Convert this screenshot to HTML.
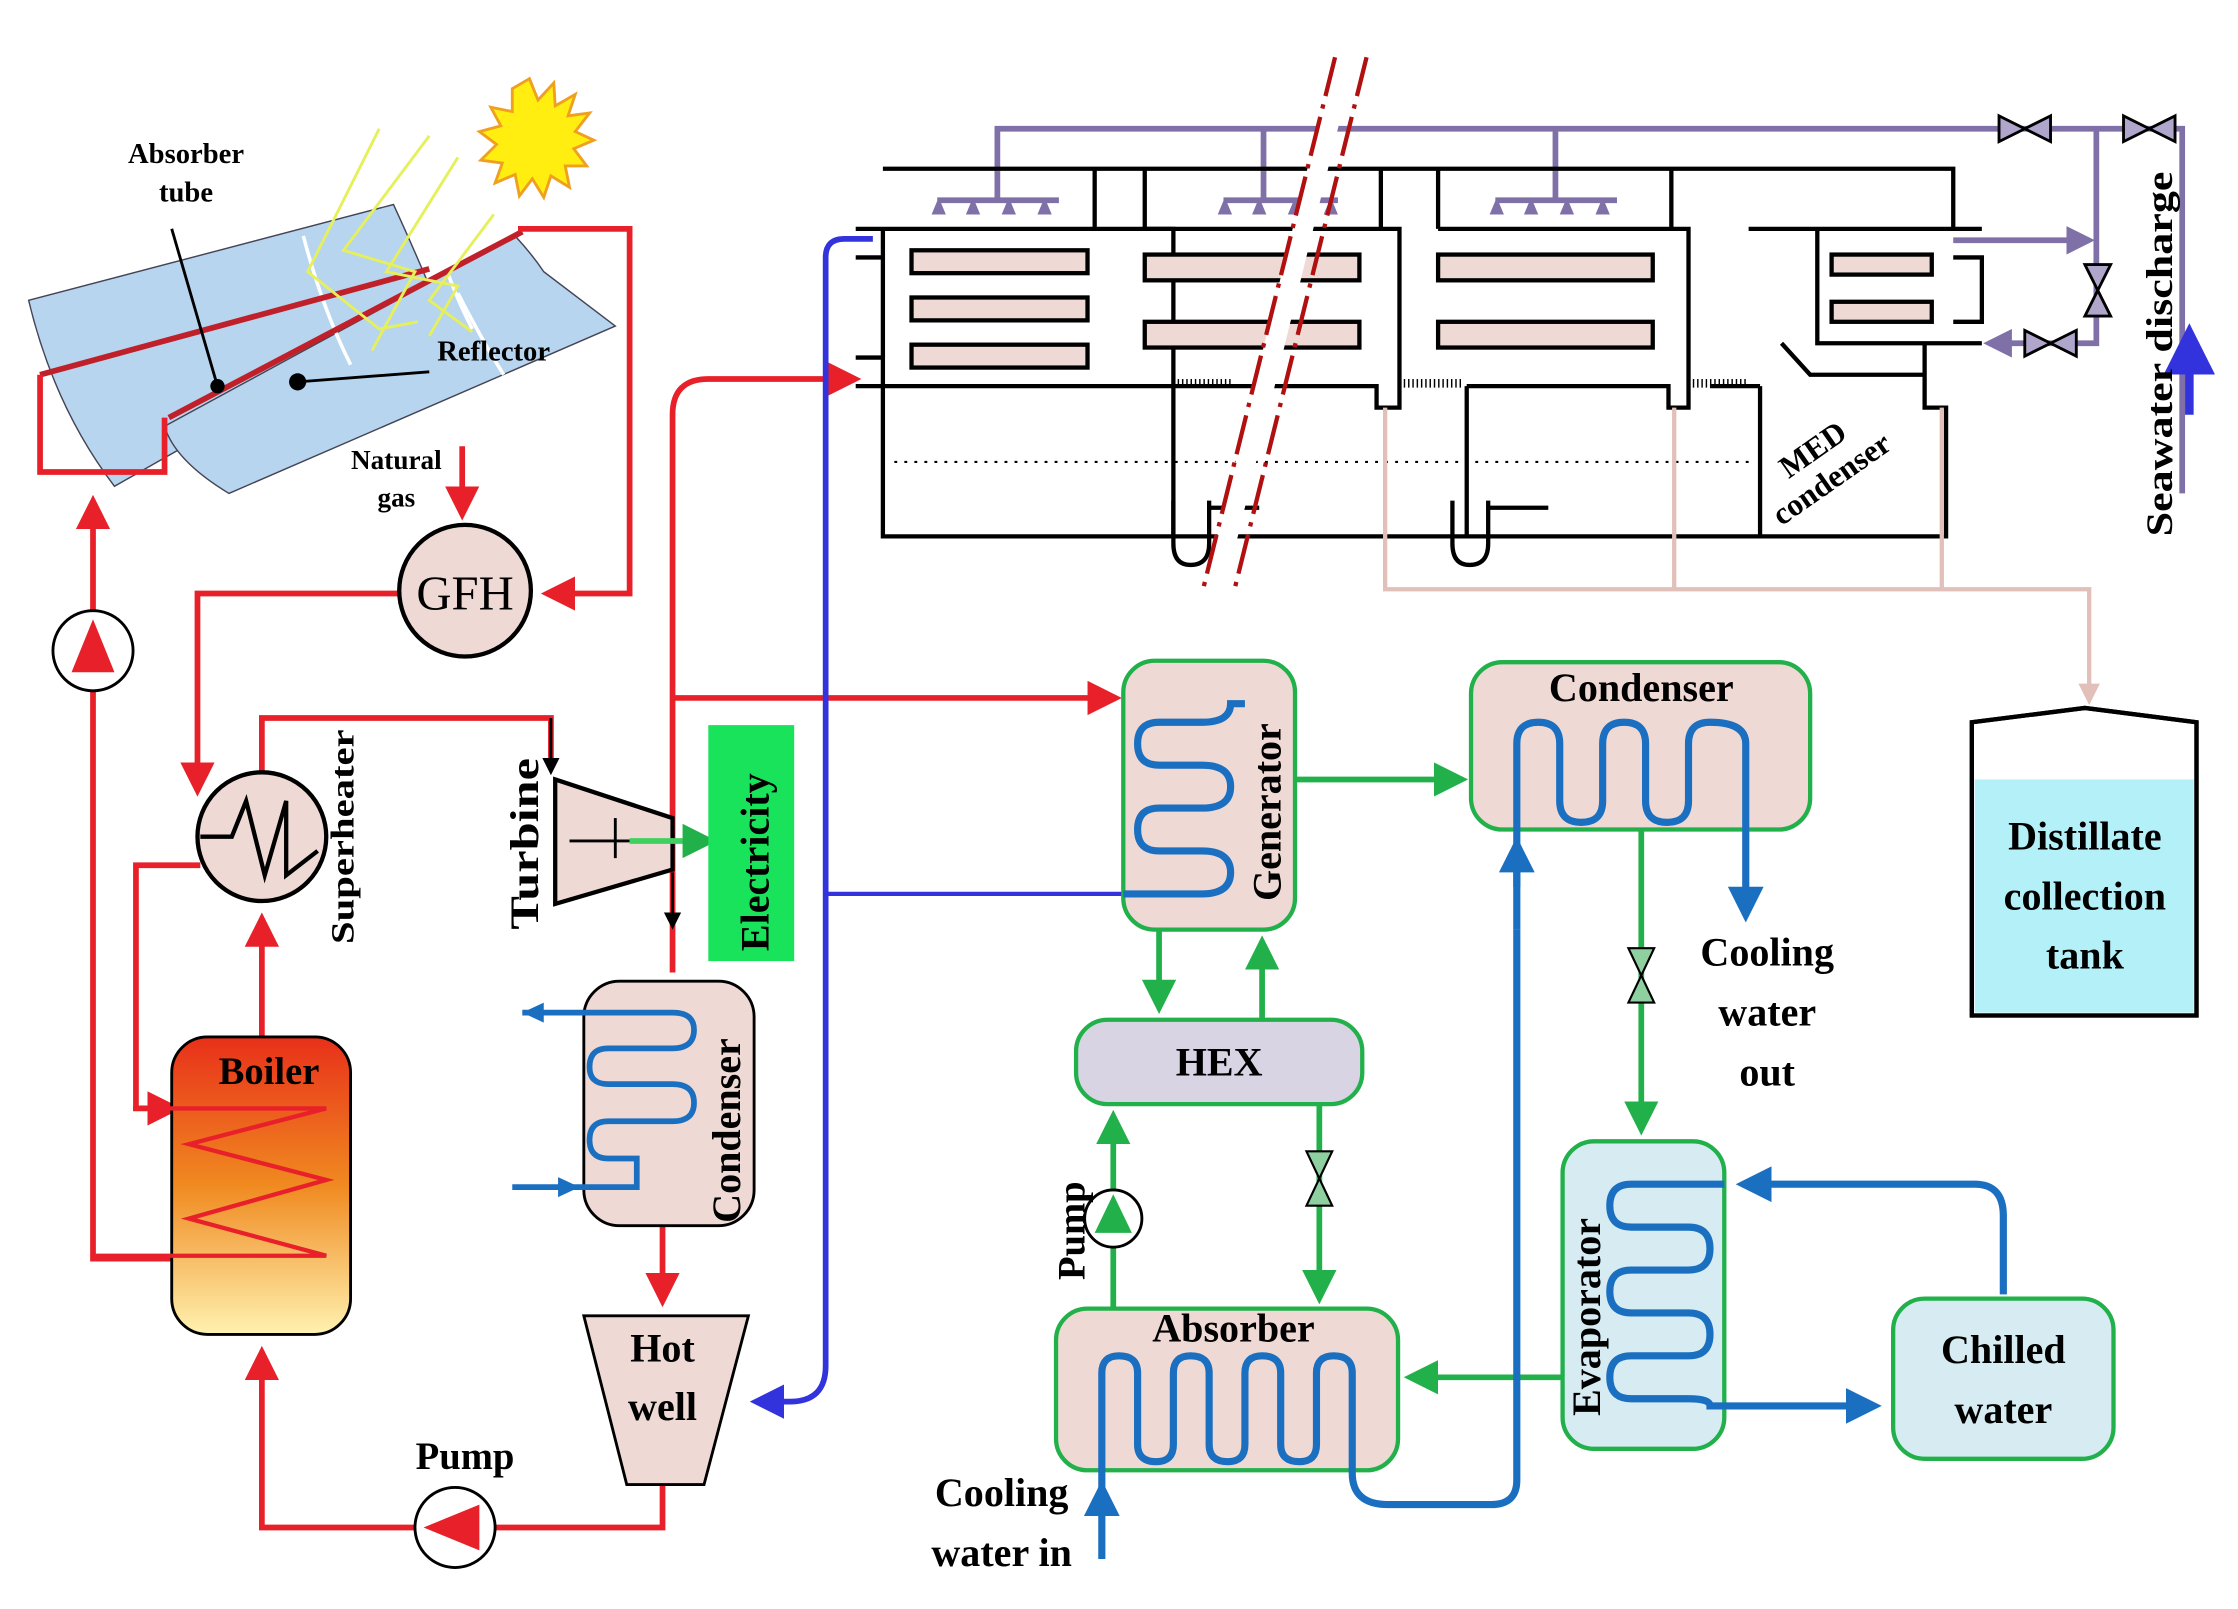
<!DOCTYPE html>
<html><head><meta charset="utf-8"><style>
html,body{margin:0;padding:0;background:#fff;}
svg{display:block;}
text{font-family:"Liberation Serif",serif;font-weight:bold;fill:#000;}
</style></head><body>
<svg width="2238" height="1609" viewBox="0 0 1564 1125" preserveAspectRatio="none" xmlns="http://www.w3.org/2000/svg">
<defs>
<marker id="ar" markerWidth="6" markerHeight="6" refX="5" refY="3" orient="auto" markerUnits="strokeWidth"><path d="M0,0 L6,3 L0,6 Z" fill="#e8202a"/></marker>
<marker id="ag" markerWidth="6" markerHeight="6" refX="5" refY="3" orient="auto" markerUnits="strokeWidth"><path d="M0,0 L6,3 L0,6 Z" fill="#22b04a"/></marker>
<marker id="ab" markerWidth="5" markerHeight="5" refX="4" refY="2.5" orient="auto" markerUnits="strokeWidth"><path d="M0,0 L5,2.5 L0,5 Z" fill="#1a6fc0"/></marker>
<marker id="au" markerWidth="6" markerHeight="6" refX="5" refY="3" orient="auto" markerUnits="strokeWidth"><path d="M0,0 L6,3 L0,6 Z" fill="#3333dd"/></marker>
<marker id="ap" markerWidth="5" markerHeight="5" refX="4" refY="2.5" orient="auto" markerUnits="strokeWidth"><path d="M0,0 L5,2.5 L0,5 Z" fill="#8070a8"/></marker>
<marker id="ak" markerWidth="6" markerHeight="6" refX="5" refY="3" orient="auto" markerUnits="strokeWidth"><path d="M0,0 L6,3 L0,6 Z" fill="#000"/></marker>
<marker id="apk" markerWidth="5" markerHeight="5" refX="4" refY="2.5" orient="auto" markerUnits="strokeWidth"><path d="M0,0 L5,2.5 L0,5 Z" fill="#e0c0b8"/></marker>
<linearGradient id="boil" x1="0" y1="0" x2="0" y2="1"><stop offset="0" stop-color="#e8301a"/><stop offset="0.5" stop-color="#f08a20"/><stop offset="1" stop-color="#fff2b0"/></linearGradient>
</defs>

<!-- Solar collector -->
<g stroke="#445" stroke-width="1" fill="#b7d5ee">
<path d="M20,210 L275,143 Q292,180 305,212 L80,340 Q38,285 20,210 Z"/>
<path d="M115,298 L360,165 Q372,178 380,190 L430,228 L160,345 Q122,322 115,298 Z"/>
</g>
<g stroke="#fff" stroke-width="2.5" fill="none"><path d="M212,165 Q225,215 245,255"/><path d="M300,150 Q312,195 330,230"/><path d="M320,205 Q338,240 352,262"/></g>
<line x1="28" y1="262" x2="300" y2="188" stroke="#c0202a" stroke-width="4"/>
<line x1="118" y1="292" x2="365" y2="162" stroke="#c0202a" stroke-width="4"/>
<g stroke="#e6f05a" stroke-width="2" fill="none">
<path d="M265,90 L215,190 L265,230 L292,225"/><path d="M300,95 L240,175 L290,190 L260,245"/><path d="M320,110 L270,190 L320,200 L300,235"/><path d="M345,150 L300,210 L330,232"/>
</g>
<line x1="120" y1="160" x2="152" y2="270" stroke="#000" stroke-width="2"/><circle cx="152" cy="270" r="5" fill="#000"/>
<line x1="208" y1="267" x2="300" y2="260" stroke="#000" stroke-width="2"/><circle cx="208" cy="267" r="6" fill="#000"/>
<text x="130" y="114" font-size="20" text-anchor="middle">Absorber</text>
<text x="130" y="141" font-size="20" text-anchor="middle">tube</text>
<text x="345" y="252" font-size="20" text-anchor="middle">Reflector</text>
<!-- Sun -->
<polygon fill="#ffee10" stroke="#f0a020" stroke-width="2" points="370,55 376,70 387,58 388,74 402,66 397,81 412,79 402,92 415,98 401,104 410,116 395,116 398,131 385,123 380,138 372,125 363,137 360,122 346,128 351,114 336,112 347,101 335,92 350,88 343,75 358,78 358,62"/>

<!-- Red lines -->
<g fill="none" stroke="#e8202a" stroke-width="4">
<path d="M362,160 H440 V415 H382" marker-end="url(#ar)"/>
<path d="M282,415 H138 V553" marker-end="url(#ar)"/>
<path d="M28,262 V330 H115 V292"/>
<path d="M120,880 H65 V350" marker-end="url(#ar)"/>
<path d="M183,725 V642" marker-end="url(#ar)"/>
<path d="M140,605 H95 V775 H123" marker-end="url(#ar)"/>
<path d="M183,542 V502 H385 V530"/>
<path d="M323,312 V360" marker-end="url(#ar)"/>
<path d="M470,680 V290 Q470,265 495,265 H598" marker-end="url(#ar)"/>
<path d="M470,488 H780" marker-end="url(#ar)"/>
<path d="M463,857 V910" marker-end="url(#ar)"/>
<path d="M463,1038 V1068 H183 V945" marker-end="url(#ar)"/>
</g>

<!-- Pump collector -->
<circle cx="65" cy="455" r="28" fill="#fff" stroke="#000" stroke-width="2"/>
<polygon points="65,433 50,470 80,470" fill="#e8202a"/>
<text x="277" y="328" font-size="19" text-anchor="middle">Natural</text>
<text x="277" y="354" font-size="19" text-anchor="middle">gas</text>
<!-- GFH -->
<circle cx="325" cy="413" r="46" fill="#efd9d4" stroke="#000" stroke-width="3"/>
<text x="325" y="426" font-size="34" text-anchor="middle" style="font-weight:normal">GFH</text>

<!-- Superheater -->
<circle cx="183" cy="585" r="45" fill="#efd9d4" stroke="#000" stroke-width="3"/>
<path d="M140,585 H162 L172,560 L185,612 L200,560 V612 L222,595" fill="none" stroke="#000" stroke-width="3"/>
<text transform="translate(247,660) rotate(-90)" font-size="23" textLength="150" lengthAdjust="spacingAndGlyphs">Superheater</text>

<!-- Boiler -->
<rect x="120" y="725" width="125" height="208" rx="25" fill="url(#boil)" stroke="#000" stroke-width="2"/>
<path d="M93,775 H228 L132,800 L228,825 L132,852 L228,878 H65" fill="none" stroke="#e8202a" stroke-width="3"/>
<text x="188" y="758" font-size="27" text-anchor="middle">Boiler</text>

<!-- Turbine -->
<polygon points="388,545 470,572 470,608 388,632" fill="#efd9d4" stroke="#000" stroke-width="3"/>
<line x1="385" y1="502" x2="385" y2="540" stroke="#000" stroke-width="2" marker-end="url(#ak)"/>
<line x1="470" y1="610" x2="470" y2="648" stroke="#000" stroke-width="2" marker-end="url(#ak)"/>
<line x1="398" y1="588" x2="440" y2="588" stroke="#000" stroke-width="2"/>
<line x1="430" y1="572" x2="430" y2="600" stroke="#000" stroke-width="2"/>
<line x1="440" y1="588" x2="497" y2="588" stroke="#40d060" stroke-width="4" marker-end="url(#ag)"/>
<text transform="translate(376,650) rotate(-90)" font-size="28" textLength="120" lengthAdjust="spacingAndGlyphs">Turbine</text>
<rect x="495" y="507" width="60" height="165" fill="#19e35a"/>
<text transform="translate(537,665) rotate(-90)" font-size="28">Electricity</text>

<!-- Condenser left -->
<rect x="408" y="686" width="119" height="171" rx="25" fill="#efd9d4" stroke="#000" stroke-width="2"/>
<path d="M365,708 H470 Q485,708 485,720 Q485,733 470,733 H425 Q412,733 412,746 Q412,758 425,758 H470 Q485,758 485,771 Q485,784 470,784 H425 Q412,784 412,797 Q412,810 425,810 H445 V830 H358" fill="none" stroke="#1a6fc0" stroke-width="4"/>
<polygon points="365,708 380,701 380,715" fill="#1a6fc0"/>
<polygon points="405,830 390,823 390,837" fill="#1a6fc0"/>
<text transform="translate(517,855) rotate(-90)" font-size="28">Condenser</text>

<!-- Hot well -->
<polygon points="408,920 523,920 492,1038 438,1038" fill="#efd9d4" stroke="#000" stroke-width="2"/>
<text x="463" y="952" font-size="28" text-anchor="middle">Hot</text>
<text x="463" y="993" font-size="28" text-anchor="middle">well</text>
<!-- Pump bottom -->
<circle cx="318" cy="1068" r="28" fill="#fff" stroke="#000" stroke-width="2"/>
<polygon points="296,1068 335,1052 335,1084" fill="#e8202a"/>
<text x="325" y="1027" font-size="27" text-anchor="middle">Pump</text>

<!-- blue-violet line -->
<path d="M610,167 H590 Q577,167 577,180 V955 Q577,980 552,980 H528" fill="none" stroke="#3333dd" stroke-width="4" marker-end="url(#au)"/>
<line x1="577" y1="625" x2="785" y2="625" stroke="#3333dd" stroke-width="3"/>

<!-- MED -->
<g fill="none" stroke="#8070a8" stroke-width="4">
<path d="M697,120 V90 H1525 V345"/>
<path d="M883,120 V90"/><path d="M1087,120 V90"/>
<path d="M655,140 H740 M697,120 V140 M855,140 H935 M883,120 V140 M1045,140 H1130 M1087,120 V140"/>
<path d="M1465,90 V240 H1390" marker-end="url(#ap)"/>
<path d="M1365,168 H1460" marker-end="url(#ap)"/>
</g>
<g fill="#8070a8">
<path d="M651,150 l5,-12 l5,12z M675,150 l5,-12 l5,12z M700,150 l5,-12 l5,12z M725,150 l5,-12 l5,12z"/>
<path d="M851,150 l5,-12 l5,12z M875,150 l5,-12 l5,12z M900,150 l5,-12 l5,12z M925,150 l5,-12 l5,12z"/>
<path d="M1041,150 l5,-12 l5,12z M1065,150 l5,-12 l5,12z M1090,150 l5,-12 l5,12z M1115,150 l5,-12 l5,12z"/>
</g>
<g fill="#b0a6cc" stroke="#000" stroke-width="2">
<path d="M1397,81 L1415,90 L1397,99Z M1433,81 L1415,90 L1433,99Z"/>
<path d="M1484,81 L1502,90 L1484,99Z M1520,81 L1502,90 L1520,99Z"/>
<path d="M1457,185 L1466,203 L1475,185Z M1457,221 L1466,203 L1475,221Z"/>
<path d="M1415,231 L1433,240 L1415,249Z M1451,231 L1433,240 L1451,249Z"/>
</g>
<line x1="1530" y1="290" x2="1530" y2="232" stroke="#3333dd" stroke-width="6" marker-end="url(#au)"/>
<text transform="translate(1518,375) rotate(-90)" font-size="26" textLength="255" lengthAdjust="spacingAndGlyphs">Seawater discharge</text>

<g fill="none" stroke="#000" stroke-width="3">
<path d="M617,118 H1365 V160 M765,118 V160 M800,118 V160 M965,118 V160 M1005,118 V160 M1168,118 V160"/>
<path d="M598,160 H820 V270 H598 M617,180 H598 M617,250 H598 M617,160 V270"/>
<path d="M800,160 H978 V285 H962 V270 H820"/>
<path d="M1005,160 H1180 V285 H1166 V270 H1025"/>
<path d="M1222,160 H1385 M1270,160 V240 H1385 M1365,180 H1385 V225 H1365"/>
<path d="M1345,240 V285 H1360 V375 H617 V270 M820,270 V375 M1025,270 V375 M1230,270 V375 M1230,270 H1195"/>
<path d="M1245,240 L1265,262 H1345"/>
<path d="M820,350 V380 Q820,395 832,395 Q845,395 845,380 V350 M845,355 H880"/>
<path d="M1015,350 V380 Q1015,395 1027,395 Q1040,395 1040,380 V350 M1040,355 H1082"/>
</g>
<g fill="#efd9d4" stroke="#000" stroke-width="3">
<rect x="637" y="175" width="123" height="16"/><rect x="637" y="208" width="123" height="16"/><rect x="637" y="241" width="123" height="16"/>
<rect x="800" y="178" width="150" height="18"/><rect x="800" y="225" width="150" height="18"/>
<rect x="1005" y="178" width="150" height="18"/><rect x="1005" y="225" width="150" height="18"/>
<rect x="1280" y="178" width="70" height="14"/><rect x="1280" y="211" width="70" height="14"/>
</g>
<line x1="625" y1="323" x2="1222" y2="323" stroke="#000" stroke-width="1.5" stroke-dasharray="2,5"/>
<g stroke="#000" stroke-width="6" stroke-dasharray="1,2"><line x1="820" y1="268" x2="860" y2="268"/><line x1="978" y1="268" x2="1022" y2="268"/><line x1="1180" y1="268" x2="1220" y2="268"/></g>
<text transform="translate(1250,335) rotate(-35)" font-size="22">MED</text>
<text transform="translate(1245,368) rotate(-35)" font-size="22">condenser</text>
<!-- breaker -->
<g stroke="#fff" stroke-width="14"><line x1="940" y1="40" x2="848" y2="415"/></g>
<g stroke="#b01010" stroke-width="3" stroke-dasharray="28,6,3,6"><line x1="933" y1="40" x2="840" y2="415"/><line x1="955" y1="40" x2="862" y2="415"/></g>

<!-- pink distillate -->
<g fill="none" stroke="#e0c0b8" stroke-width="3">
<path d="M968,285 V412 H1460 V490" marker-end="url(#apk)"/>
<path d="M1170,285 V412 M1357,285 V412"/>
</g>
<!-- tank -->
<path d="M1378,505 L1457,495 L1535,505 V710 H1378 Z" fill="#fff" stroke="#000" stroke-width="3"/>
<rect x="1380" y="545" width="153" height="163" fill="#b3f0f7"/>
<path d="M1378,505 L1457,495 L1535,505 V710 H1378 Z" fill="none" stroke="#000" stroke-width="3"/>
<text x="1457" y="594" font-size="28" text-anchor="middle">Distillate</text>
<text x="1457" y="636" font-size="28" text-anchor="middle">collection</text>
<text x="1457" y="677" font-size="28" text-anchor="middle">tank</text>

<!-- Absorption chiller -->
<g stroke="#22b04a" stroke-width="3">
<rect x="785" y="462" width="120" height="188" rx="22" fill="#efd9d4"/>
<rect x="1028" y="463" width="237" height="117" rx="22" fill="#efd9d4"/>
<rect x="752" y="713" width="200" height="59" rx="22" fill="#d8d4e4"/>
<rect x="738" y="915" width="239" height="113" rx="22" fill="#efd9d4"/>
<rect x="1092" y="798" width="113" height="215" rx="22" fill="#d6ecf2"/>
<rect x="1323" y="908" width="154" height="112" rx="22" fill="#d6ecf2"/>
</g>
<g fill="none" stroke="#22b04a" stroke-width="4">
<path d="M905,545 H1022" marker-end="url(#ag)"/>
<path d="M810,650 V705" marker-end="url(#ag)"/>
<path d="M882,713 V658" marker-end="url(#ag)"/>
<path d="M1147,580 V790" marker-end="url(#ag)"/>
<path d="M922,772 V908" marker-end="url(#ag)"/>
<path d="M778,915 V780" marker-end="url(#ag)"/>
<path d="M1092,963 H985" marker-end="url(#ag)"/>
</g>
<g fill="#8fd0a0" stroke="#000" stroke-width="1.5">
<path d="M1138,663 L1147,682 L1156,663Z M1138,701 L1147,682 L1156,701Z"/>
<path d="M913,805 L922,824 L931,805Z M913,843 L922,824 L931,843Z"/>
</g>
<circle cx="778" cy="852" r="20" fill="#fff" stroke="#000" stroke-width="2"/>
<polygon points="778,835 765,862 791,862" fill="#22b04a"/>
<text transform="translate(758,895) rotate(-90)" font-size="27">Pump</text>

<!-- blue coils -->
<g fill="none" stroke="#1a6fc0" stroke-width="5">
<path d="M785,625 H840 Q860,625 860,610 Q860,595 840,595 H810 Q795,595 795,580 Q795,565 810,565 H840 Q860,565 860,550 Q860,535 840,535 H810 Q795,535 795,520 Q795,505 810,505 H840 Q860,505 860,492 H870"/>
<path d="M1060,650 V520 Q1060,505 1075,505 Q1090,505 1090,520 V560 Q1090,575 1105,575 Q1120,575 1120,560 V520 Q1120,505 1135,505 Q1150,505 1150,520 V560 Q1150,575 1165,575 Q1180,575 1180,560 V520 Q1180,505 1195,505 Q1220,505 1220,520 V580"/>
<path d="M770,1090 V960 Q770,948 782,948 Q795,948 795,960 V1010 Q795,1022 808,1022 Q820,1022 820,1010 V960 Q820,948 832,948 Q845,948 845,960 V1010 Q845,1022 858,1022 Q870,1022 870,1010 V960 Q870,948 882,948 Q895,948 895,960 V1010 Q895,1022 908,1022 Q920,1022 920,1010 V960 Q920,948 932,948 Q945,948 945,960 V1030 Q945,1052 970,1052 H1042 Q1060,1052 1060,1035 V650"/>
<path d="M1400,905 V850 Q1400,828 1380,828 H1218" marker-end="url(#ab)"/>
<path d="M1205,828 H1140 Q1125,828 1125,843 Q1125,858 1140,858 H1180 Q1195,858 1195,873 Q1195,888 1180,888 H1140 Q1125,888 1125,903 Q1125,918 1140,918 H1180 Q1195,918 1195,933 Q1195,948 1180,948 H1140 Q1125,948 1125,963 Q1125,978 1140,978 H1180 Q1195,978 1195,983 H1310" marker-end="url(#ab)"/>
<path d="M1220,580 V640" marker-end="url(#ab)"/>
<path d="M1060,620 V590" marker-end="url(#ab)"/>
<path d="M770,1060 V1040" marker-end="url(#ab)"/>
</g>
<text transform="translate(895,630) rotate(-90)" font-size="28">Generator</text>
<text x="1147" y="490" font-size="28" text-anchor="middle">Condenser</text>
<text x="852" y="752" font-size="28" text-anchor="middle">HEX</text>
<text x="862" y="938" font-size="28" text-anchor="middle">Absorber</text>
<text transform="translate(1118,990) rotate(-90)" font-size="28">Evaporator</text>
<text x="1400" y="953" font-size="28" text-anchor="middle">Chilled</text>
<text x="1400" y="995" font-size="28" text-anchor="middle">water</text>
<text x="1235" y="675" font-size="28" text-anchor="middle">Cooling</text>
<text x="1235" y="717" font-size="28" text-anchor="middle">water</text>
<text x="1235" y="759" font-size="28" text-anchor="middle">out</text>
<text x="700" y="1053" font-size="28" text-anchor="middle">Cooling</text>
<text x="700" y="1095" font-size="28" text-anchor="middle">water in</text>
</svg>
</body></html>
